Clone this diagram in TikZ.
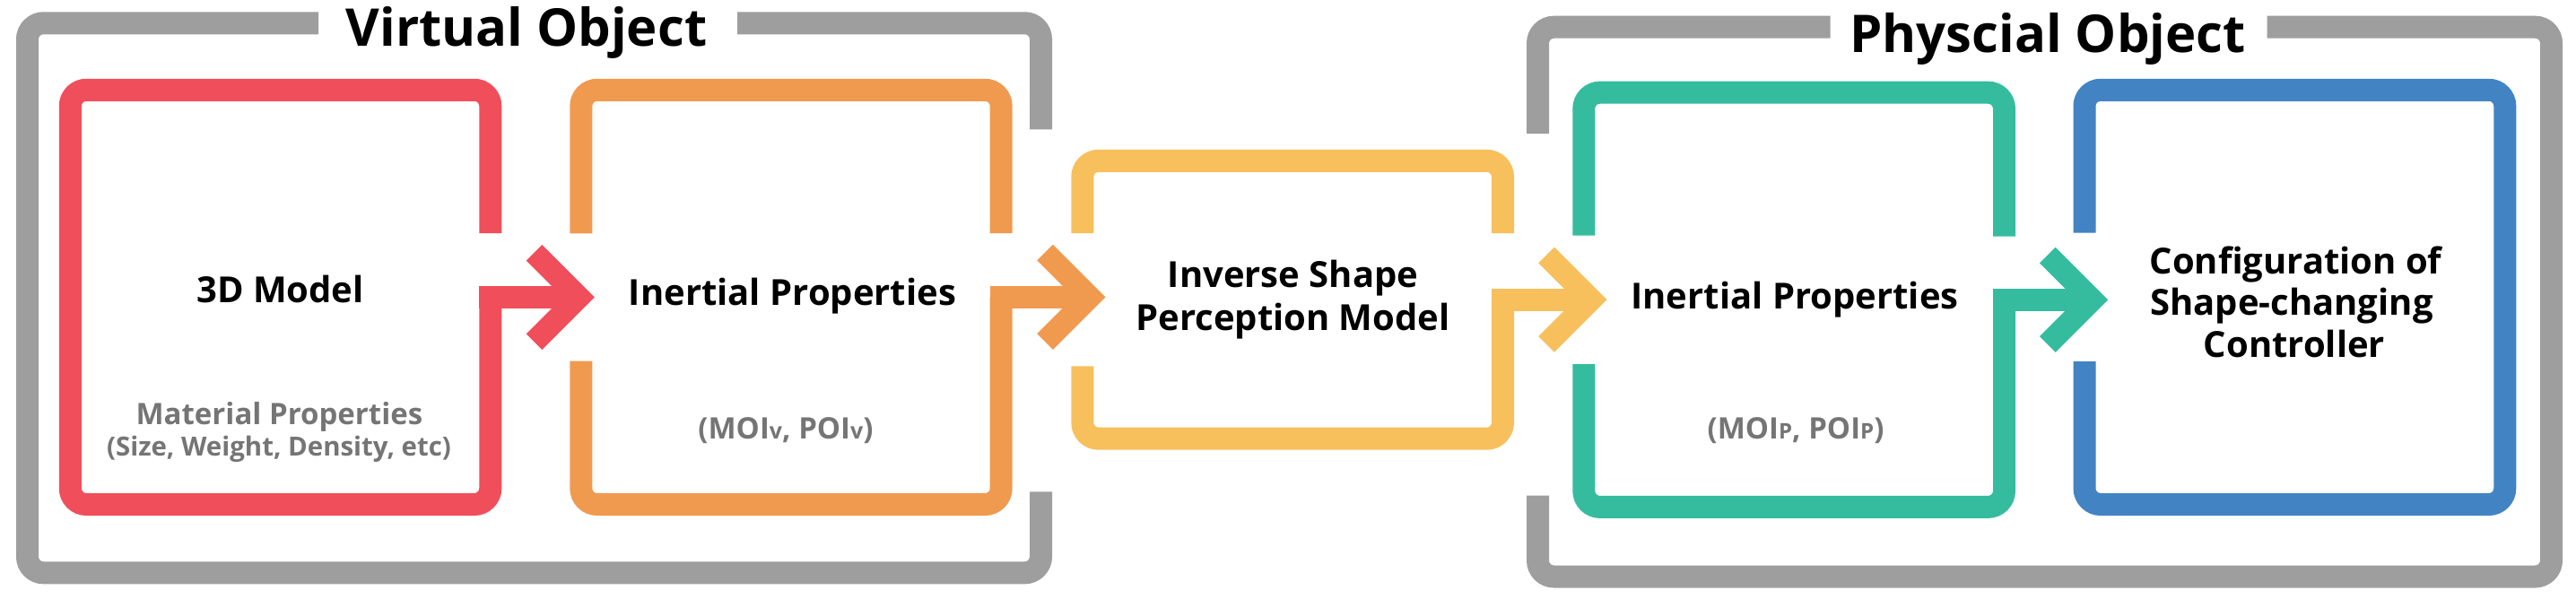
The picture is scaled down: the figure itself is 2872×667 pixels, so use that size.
\documentclass[tikz,border=0pt]{standalone}
\usepackage{fontspec}
\setmainfont{Open Sans}
\definecolor{cred}{HTML}{F04E5A}
\definecolor{corange}{HTML}{F09A50}
\definecolor{cyellow}{HTML}{F7C05C}
\definecolor{cgreen}{HTML}{35BC9E}
\definecolor{cblue}{HTML}{4283C4}
\definecolor{cgray}{HTML}{9E9E9E}
\definecolor{tgray}{HTML}{757575}
\begin{document}
\begin{tikzpicture}[x=1pt,y=-1pt,
  frameline/.style={draw=cgray, line width=25pt, rounded corners=18pt, line cap=butt},
  boxline/.style={line width=25pt, rounded corners=18pt, line cap=butt},
  barline/.style={line width=25pt, line cap=butt},
  chev/.style={line width=25pt, line cap=butt, line join=miter},
  lbl/.style={font=\bfseries\fontsize{40}{48}\selectfont, anchor=base, inner sep=0pt},
  sublbl/.style={font=\bfseries\fontsize{33}{39}\selectfont, text=tgray, anchor=base, inner sep=0pt},
  ttl/.style={font=\bfseries\fontsize{58}{70}\selectfont, anchor=base, inner sep=0pt}]
\useasboundingbox (0,0) rectangle (2872,667);

% ---------- gray frames ----------
\coordinate (va1) at (355,25.8);
\coordinate (va2) at (30.5,25.8);
\coordinate (va3) at (30.5,638.8);
\coordinate (va4) at (1160.5,638.8);
\coordinate (va5) at (1160.5,548.3);
\coordinate (vb1) at (822,25.8);
\coordinate (vb2) at (1160.5,25.8);
\coordinate (vb3) at (1160.5,144.3);
\draw[frameline] (va1) -- (va2) -- (va3) -- (va4) -- (va5);
\draw[frameline] (vb1) -- (vb2) -- (vb3);

\coordinate (pa1) at (2040.7,30.2);
\coordinate (pa2) at (1714.5,30.2);
\coordinate (pa3) at (1714.5,149);
\coordinate (pb1) at (2527.7,30.2);
\coordinate (pb2) at (2844.5,30.2);
\coordinate (pb3) at (2844.5,643);
\coordinate (pb4) at (1714.5,643);
\coordinate (pb5) at (1714.5,552.5);
\draw[frameline] (pa1) -- (pa2) -- (pa3);
\draw[frameline] (pb1) -- (pb2) -- (pb3) -- (pb4) -- (pb5);

\node[ttl] (tvo) at (587,51.7) {Virtual Object};
\node[ttl] (tpo) at (2283,58.3) {Physcial Object};

% ---------- red box ----------
\draw[boxline, draw=cred] (546.8,260) -- (546.8,100.3) -- (78.3,100.3) -- (78.3,562.5) -- (546.8,562.5) -- (546.8,331.5);
\coordinate (rbar) at (534.3,331.5);
\coordinate (rtip) at (645.2,331.5);
\draw[barline, draw=cred] (rbar) -- (rtip);
\draw[chev, draw=cred] (595.5,281.8) -- (rtip) -- (595.5,381.2);

% ---------- orange box ----------
\draw[boxline, draw=corange] (647.8,260.3) -- (647.8,100.3) -- (1116.2,100.3) -- (1116.2,260);
\draw[boxline, draw=corange] (647.8,402.7) -- (647.8,562.5) -- (1116.2,562.5) -- (1116.2,331.3);
\coordinate (obar) at (1103.7,331.3);
\coordinate (otip) at (1214.8,331.3);
\draw[barline, draw=corange] (obar) -- (otip);
\draw[chev, draw=corange] (1165.1,281.6) -- (otip) -- (1165.1,381);

% ---------- yellow box ----------
\draw[boxline, draw=cyellow] (1206.8,260) -- (1206.8,179.3) -- (1675.5,179.3) -- (1675.5,260);
\draw[boxline, draw=cyellow] (1206.8,408.3) -- (1206.8,489.2) -- (1675.5,489.2) -- (1675.5,334.2);
\coordinate (ybar) at (1663,334.2);
\coordinate (ytip) at (1773.8,334.2);
\draw[barline, draw=cyellow] (ybar) -- (ytip);
\draw[chev, draw=cyellow] (1724.1,284.5) -- (ytip) -- (1724.1,383.9);

% ---------- green box ----------
\draw[boxline, draw=cgreen] (1765.8,262.7) -- (1765.8,103.2) -- (2234.5,103.2) -- (2234.5,263.7);
\draw[boxline, draw=cgreen] (1765.8,406) -- (1765.8,565.4) -- (2234.5,565.4) -- (2234.5,334.3);
\coordinate (gbar) at (2222,334.3);
\coordinate (gtip) at (2332.5,334.3);
\draw[barline, draw=cgreen] (gbar) -- (gtip);
\draw[chev, draw=cgreen] (2282.8,284.6) -- (gtip) -- (2282.8,384);

% ---------- blue box ----------
\draw[boxline, draw=cblue] (2324,259.5) -- (2324,100.3) -- (2792.8,100.3) -- (2792.8,562.5) -- (2324,562.5) -- (2324,403);

% ---------- texts ----------
\node[lbl] (t3d) at (312.5,337) {3D Model};
\node[sublbl] (tmat) at (311.4,473.3) {Material Properties};
\node[sublbl, font=\bfseries\fontsize{29.4}{35}\selectfont] (tsize) at (311,508.3) {(Size, Weight, Density, etc)};

\node[lbl] (tipv) at (883.5,340) {Inertial Properties};
\node[sublbl] (tmoiv) at (876,489.3) {(MOI{\fontsize{25}{25}\selectfont v}, POI{\fontsize{25}{25}\selectfont v})};

\node[lbl] (tinv1) at (1441.5,320) {Inverse Shape};
\node[lbl] (tinv2) at (1441.5,368.3) {Perception Model};

\node[lbl] (tipp) at (2001,344) {Inertial Properties};
\node[sublbl] (tmoip) at (2002,489) {(MOI{\fontsize{24}{24}\selectfont P}, POI{\fontsize{24}{24}\selectfont P})};

\node[lbl] (tcfg1) at (2559.5,305) {Configuration of};
\node[lbl] (tcfg2) at (2555,351.7) {Shape-changing};
\node[lbl] (tcfg3) at (2558,398.3) {Controller};
\end{tikzpicture}
\end{document}
